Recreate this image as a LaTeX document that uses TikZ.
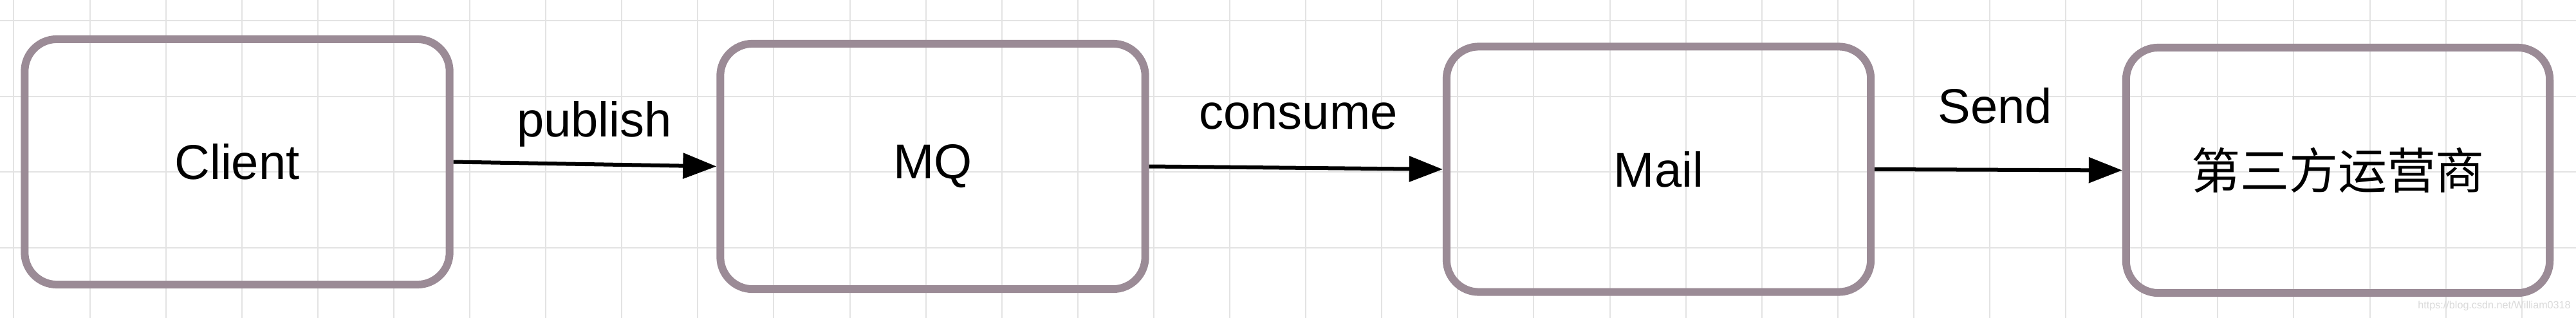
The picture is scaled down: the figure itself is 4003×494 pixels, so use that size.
\documentclass[tikz,border=0pt]{standalone}
\usepackage{fontspec}
\setmainfont{Liberation Sans}
\newfontfamily\cjk{Noto Sans CJK SC}
\usetikzlibrary{arrows.meta}
\definecolor{boxc}{HTML}{9B8B96}
\definecolor{gridc}{HTML}{E3E3E3}
\definecolor{wmc}{HTML}{DADADA}
\begin{document}
\begin{tikzpicture}[x=0.01cm,y=-0.01cm,
  gridline/.style={draw=gridc, line width=0.02cm},
  box/.style={draw=boxc, line width=0.12cm, rounded corners=0.5cm,
    minimum width=6.6cm, minimum height=3.81cm, inner sep=0pt,
    font=\fontsize{21.6}{26}\selectfont},
  conn/.style={line width=0.06cm, -{Triangle[length=0.52cm,width=0.39cm]}},
  lbl/.style={anchor=base, inner sep=0pt, font=\fontsize{21.6}{26}\selectfont}]
\useasboundingbox (0,0) rectangle (4003,494);
\fill[white] (0,0) rectangle (4003,494);
\foreach \i in {0,...,33}
  \draw[gridline] ({21.4+118.1*\i},0) -- ({21.4+118.1*\i},494);
\foreach \j in {0,...,3}
  \draw[gridline] (0,{31.7+117.8*\j}) -- (4003,{31.7+117.8*\j});
\node[box] (client) at (368.5,251.5) {Client};
\node[box] (mq) at (1449.5,258.5) {MQ};
\node[box, minimum width=6.59cm] (mail) at (2577.5,263) {Mail};
\node[box, minimum width=6.58cm] (op) at (3633,264.5) {\cjk 第三方运营商};
\draw[conn] (client.east) -- (mq.west);
\draw[conn] (mq.east) -- (mail.west);
\draw[conn] (mail.east) -- (op.west);
\node[lbl] (lpub) at (923.5,212) {publish};
\node[lbl] (lcon) at (2017.5,200) {consume};
\node[lbl] (lsend) at (3100.5,191) {Send};
\node[text=wmc, inner sep=0pt, font=\fontsize{4.6}{5}\selectfont] (wm) at (3876,475) {https://blog.csdn.net/William0318};
\end{tikzpicture}
\end{document}
